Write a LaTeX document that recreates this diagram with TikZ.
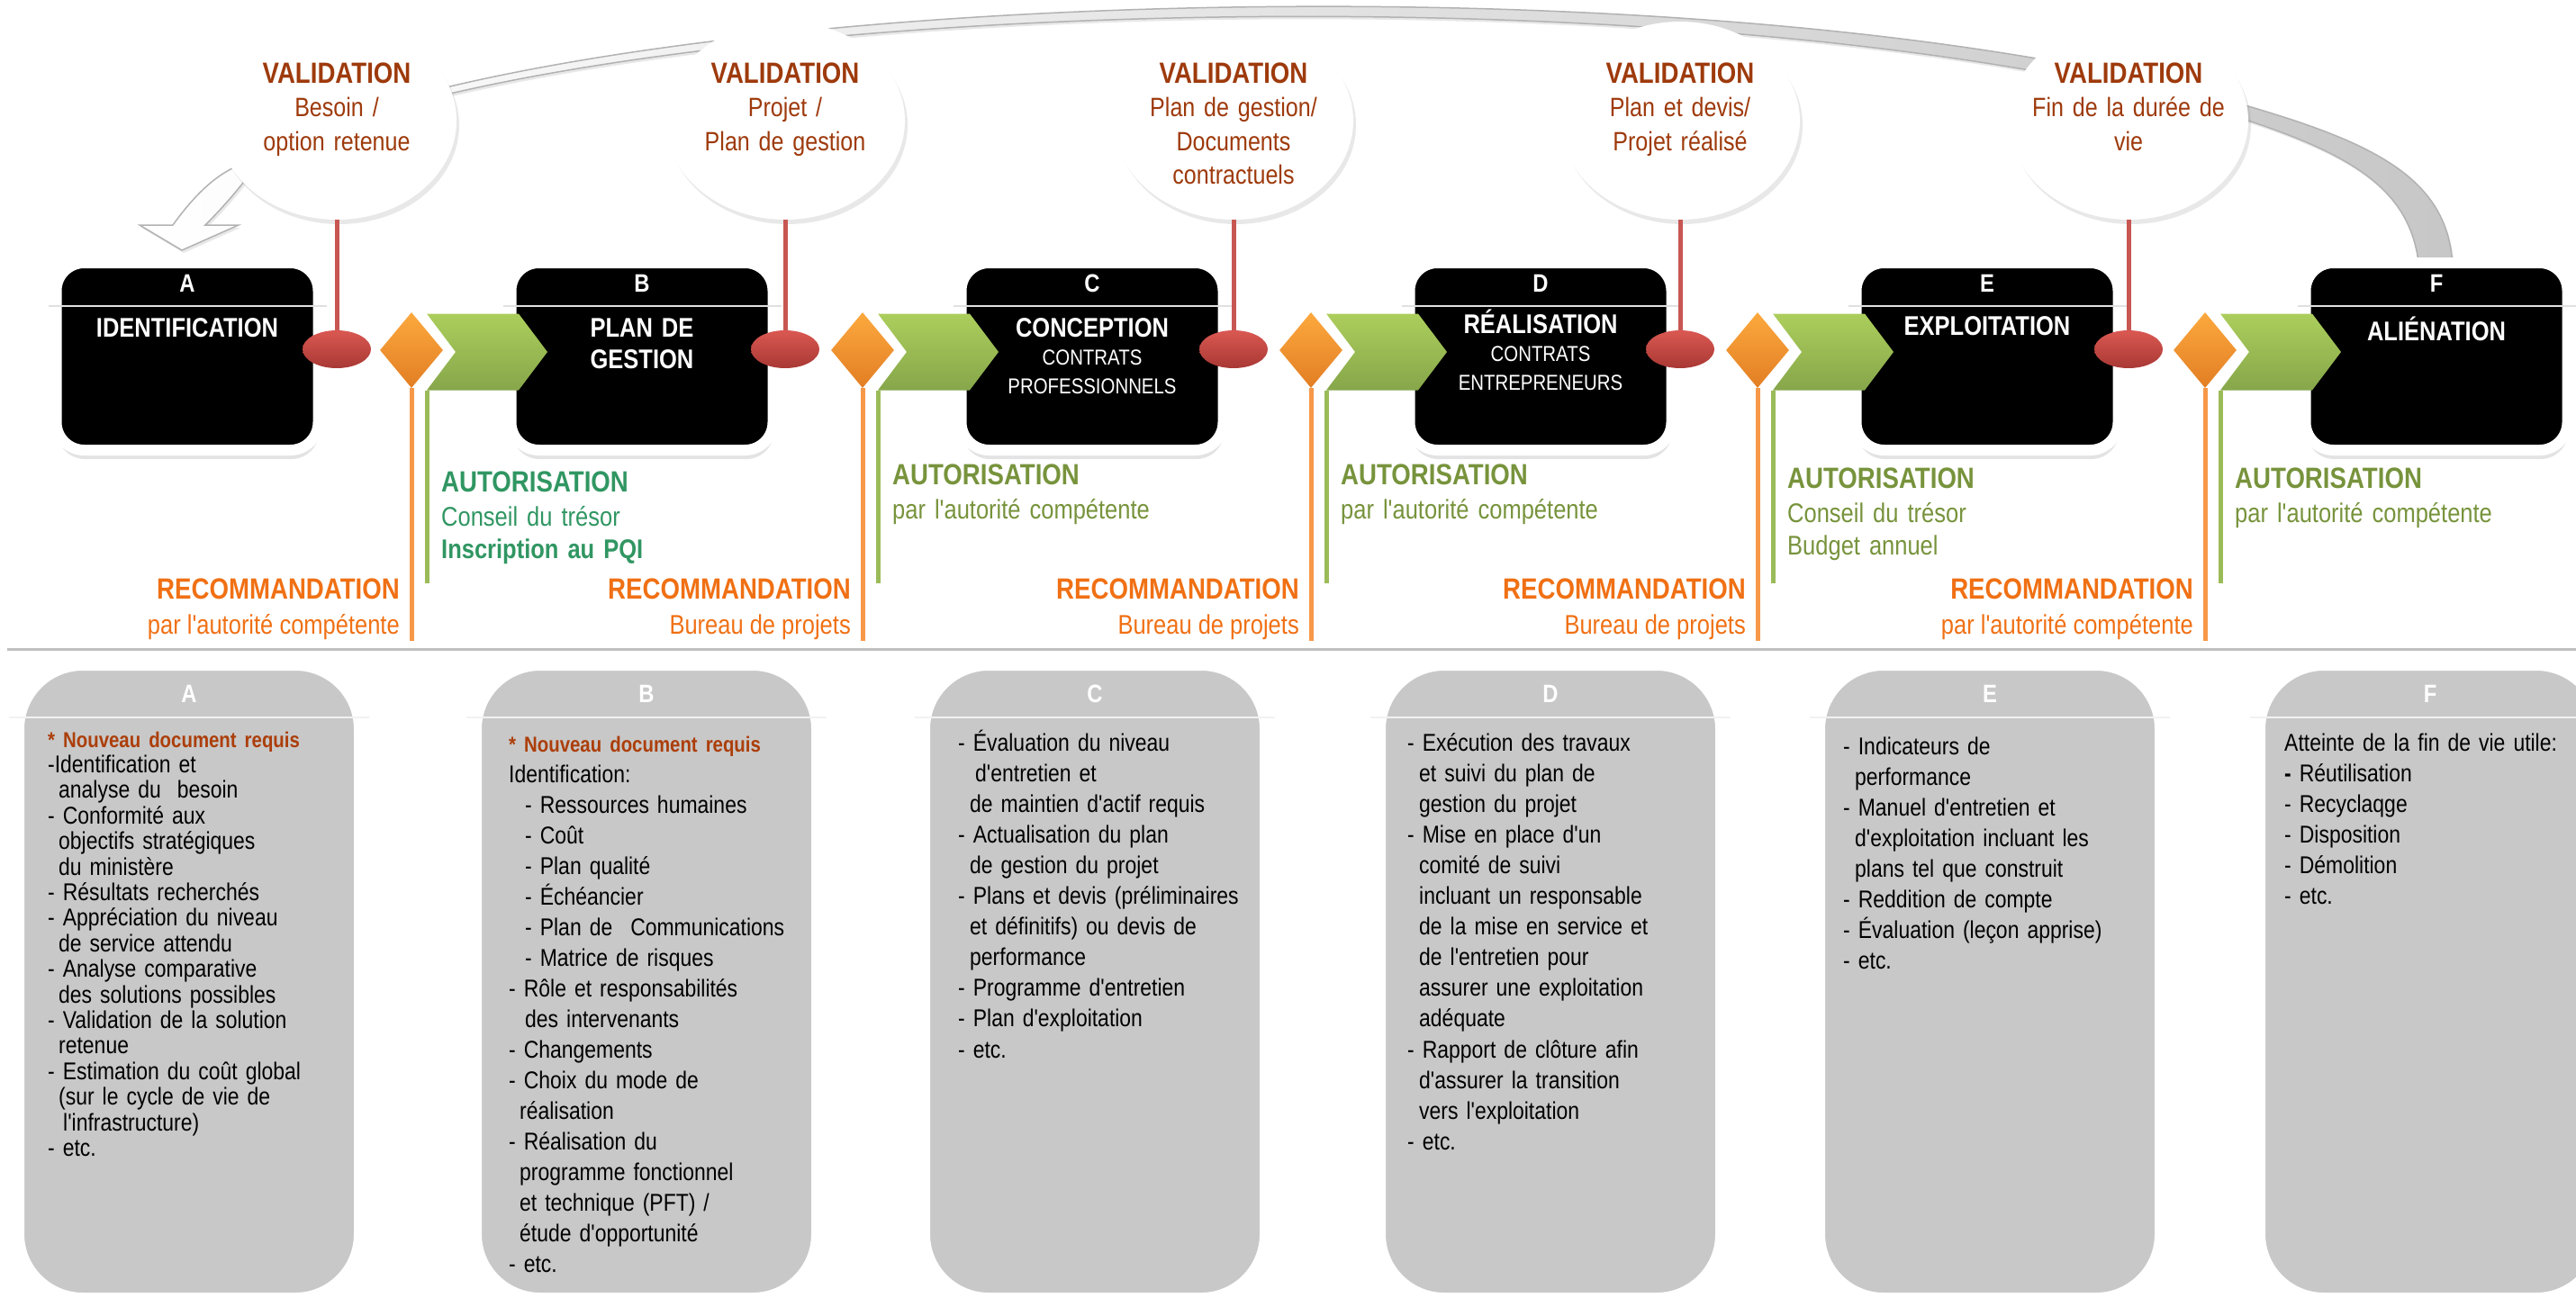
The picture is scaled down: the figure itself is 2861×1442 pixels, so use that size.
\documentclass[tikz,border=0pt]{standalone}
\usepackage{fontspec}
\setmainfont{Liberation Sans}[FakeStretch=0.85,Ligatures=TeXOff]
\usetikzlibrary{shapes.geometric,shapes.symbols,shadows}

\definecolor{valbrown}{RGB}{158,58,12}
\definecolor{reqbrown}{RGB}{172,62,10}
\definecolor{autteal}{RGB}{48,150,98}
\definecolor{autolive}{RGB}{119,147,60}
\definecolor{recorange}{RGB}{240,112,20}
\definecolor{redtop}{RGB}{218,88,82}
\definecolor{redbot}{RGB}{168,56,52}
\definecolor{redline}{RGB}{200,86,82}
\definecolor{ortop}{RGB}{252,168,62}
\definecolor{orbot}{RGB}{226,126,36}
\definecolor{orline}{RGB}{247,152,72}
\definecolor{grtop}{RGB}{172,206,92}
\definecolor{grbot}{RGB}{134,166,74}
\definecolor{grline}{RGB}{155,187,89}
\definecolor{cardgray}{RGB}{200,200,200}

\tikzset{
  loopband/.style={left color=white, right color=black!22, draw=black!30, line width=1.5pt,
    drop shadow={opacity=0.18, shadow xshift=2pt, shadow yshift=-3pt}},
  valbubble/.style={ellipse, fill=white, minimum width=266pt, minimum height=220pt,
    drop shadow={opacity=0.18, shadow xshift=3pt, shadow yshift=-5pt}},
  valtitle/.style={font=\fontsize{32.5}{38}\selectfont\bfseries, text=valbrown},
  valsub/.style={font=\fontsize{29.5}{37.5}\selectfont, text=valbrown, text width=250pt, align=center},
  phasebox/.style={rectangle, rounded corners=31pt, fill=black, draw=white, line width=12pt,
    minimum width=291pt, minimum height=208pt,
    drop shadow={opacity=0.22, shadow xshift=1pt, shadow yshift=-10pt}},
  phasediv/.style={draw=black!12, line width=2.5pt},
  phaseletter/.style={font=\fontsize{28}{30}\selectfont\bfseries, text=white},
  phasetitle/.style={font=\fontsize{30}{35}\selectfont\bfseries, text=white, text width=270pt, align=center},
  phasesub/.style={font=\fontsize{24}{32}\selectfont, text=white, text width=270pt, align=center},
  okmark/.style={ellipse, minimum width=76pt, minimum height=42pt, top color=redtop, bottom color=redbot},
  recmark/.style={diamond, minimum width=70pt, minimum height=84pt, top color=ortop, bottom color=orbot},
  autmark/.style={signal, signal from=west, signal to=east, signal pointer angle=106,
    minimum width=134pt, minimum height=85pt, top color=grtop, bottom color=grbot},
  valline/.style={draw=redline, line width=5pt},
  recline/.style={draw=orline, line width=5pt},
  autline/.style={draw=grline, line width=5pt},
  auttitle/.style={font=\fontsize{32.5}{38}\selectfont\bfseries},
  autsub/.style={font=\fontsize{30}{36}\selectfont, text width=320pt, align=left},
  rectitle/.style={font=\fontsize{32.5}{38}\selectfont\bfseries, text=recorange},
  recsub/.style={font=\fontsize{30}{36}\selectfont, text=recorange},
  sepline/.style={draw=black!25, line width=3pt},
  card/.style={rectangle, rounded corners=70pt, fill=cardgray, draw=white, line width=10pt,
    minimum width=376pt, minimum height=701pt,
    drop shadow={opacity=0.15, shadow xshift=0pt, shadow yshift=-4pt}},
  carddiv/.style={draw=black!5, line width=2.5pt},
  cardletter/.style={font=\fontsize{28}{30}\selectfont\bfseries, text=white},
  cardtext/.style={font=\fontsize{27}{34.1}\selectfont, text width=350pt, align=left, anchor=base west}
}
\newcommand\requis{\textcolor{reqbrown}{\fontsize{24}{24}\selectfont\textbf{* Nouveau document requis}}}

\begin{document}
\begin{tikzpicture}[x=1pt, y=-1pt, every node/.style={inner sep=0pt}]
\useasboundingbox (0,0) rectangle (2861,1442);

% grande fleche de retour (F -> A)
\shadedraw[loopband]
  (2724,300) .. controls (2722,200) and (2640,160) .. (2497,118)
  .. controls (2000,-30) and (1000,-22) .. (500,96)
  .. controls (380,125) and (300,160) .. (270,203)
  .. controls (255,222) and (240,238) .. (228,250)
  -- (265,250) -- (202,278) -- (155,250) -- (192,250)
  .. controls (210,225) and (232,200) .. (258,187)
  .. controls (330,150) and (400,115) .. (500,104)
  .. controls (1000,-12) and (2000,-18) .. (2497,134)
  .. controls (2620,175) and (2680,215) .. (2687,300)
  -- cycle;

% bulles de validation
\foreach \i/\vx/\vsub in {0/374/{Besoin /\\option retenue},
                          1/872/{Projet /\\Plan de gestion},
                          2/1370/{Plan de gestion/\\Documents\\contractuels},
                          3/1866/{Plan et devis/\\Projet réalisé},
                          4/2364/{Fin de la durée de\\vie}}{
  \node[valbubble] (val\i) at (\vx,134) {};
  \node[valtitle, anchor=base] (valhead\i) at (\vx,93) {VALIDATION};
  \node[valsub, anchor=base] (valtxt\i) at (\vx,130) {\vsub};
}

% phases
\foreach \L/\bx/\ttl/\tb/\sub in {A/208/IDENTIFICATION/374/{},
                                  B/713/{PLAN DE\\GESTION}/374/{},
                                  C/1213/CONCEPTION/374/{CONTRATS\\PROFESSIONNELS},
                                  D/1711/RÉALISATION/370/{CONTRATS\\ENTREPRENEURS},
                                  E/2207/EXPLOITATION/372/{},
                                  F/2706/ALIÉNATION/378/{}}{
  \node[phasebox] (phase\L) at (\bx,396) {};
  \draw[phasediv] (\bx-154,340) -- (\bx+155,340);
  \node[phaseletter, anchor=base] (letter\L) at (\bx,324) {\L};
  \node[phasetitle, anchor=base] (title\L) at (\bx,\tb) {\ttl};
  \node[phasesub, anchor=base] (sub\L) at (\bx,\tb+31) {\sub};
}

% jalons entre les phases
\foreach \i/\dx/\vx/\ay/\autcol/\autsub/\recsub in {
    0/457/374/546/autteal/{Conseil du trésor\\\textbf{Inscription au PQI}}/{par l'autorité compétente},
    1/958/872/538/autolive/{par l'autorité compétente}/{Bureau de projets},
    2/1456/1370/538/autolive/{par l'autorité compétente}/{Bureau de projets},
    3/1952/1866/542/autolive/{Conseil du trésor\\Budget annuel}/{Bureau de projets},
    4/2449/2364/542/autolive/{par l'autorité compétente}/{par l'autorité compétente}}{
  \node[okmark] (ok\i) at (\vx,388) {};
  \node[recmark] (rec\i) at (\dx,389) {};
  \node[autmark] (aut\i) at (\dx+84,391) {};
  \coordinate (recend\i) at (\dx,712);
  \coordinate (autend\i) at (\dx+17,648);
  \draw[valline] (val\i.south) -- (ok\i.north);
  \draw[recline] (rec\i.south) -- (recend\i);
  \draw[autline] ([xshift=-67pt]aut\i.south) -- (autend\i);
  \node[auttitle, text=\autcol, anchor=base west] (authead\i) at (\dx+33,\ay) {AUTORISATION};
  \node[autsub, text=\autcol, anchor=base west] (auttxt\i) at (\dx+33,\ay+38) {\autsub};
  \node[rectitle, anchor=base east] (rechead\i) at (\dx-13,665) {RECOMMANDATION};
  \node[recsub, anchor=base east] (rectxt\i) at (\dx-13,704) {\recsub};
}

\draw[sepline] (8,721) -- (2861,721);

% fiches
\foreach \L/\bx in {A/210,B/718,C/1216,D/1722,E/2210,F/2699}{
  \node[card] (card\L) at (\bx,1090.5) {};
  \draw[carddiv] (\bx-200,797) -- (\bx+200,797);
  \node[cardletter, anchor=base] (cardletter\L) at (\bx,780) {\L};
}

\node[cardtext, font=\fontsize{27}{28.4}\selectfont] (txtA) at (53,830) {%
\requis\\
-Identification et\\
\hspace*{12pt}analyse du\ \ besoin\\
- Conformité aux\\
\hspace*{12pt}objectifs stratégiques\\
\hspace*{12pt}du ministère\\
- Résultats recherchés\\
- Appréciation du niveau\\
\hspace*{12pt}de service attendu\\
- Analyse comparative\\
\hspace*{12pt}des solutions possibles\\
- Validation de la solution\\
\hspace*{12pt}retenue\\
- Estimation du coût global\\
\hspace*{12pt}(sur le cycle de vie de\\
\hspace*{17pt}l'infrastructure)\\
- etc.};

\node[cardtext, font=\fontsize{27}{34}\selectfont] (txtB) at (565,835) {%
\requis\\
Identification:\\
\hspace*{18pt}- Ressources humaines\\
\hspace*{18pt}- Coût\\
\hspace*{18pt}- Plan qualité\\
\hspace*{18pt}- Échéancier\\
\hspace*{18pt}- Plan de\hspace*{20pt}Communications\\
\hspace*{18pt}- Matrice de risques\\
- Rôle et responsabilités\\
\hspace*{18pt}des intervenants\\
- Changements\\
- Choix du mode de\\
\hspace*{12pt}réalisation\\
- Réalisation du\\
\hspace*{12pt}programme fonctionnel\\
\hspace*{12pt}et technique (PFT) /\\
\hspace*{12pt}étude d'opportunité\\
- etc.};

\node[cardtext] (txtC) at (1064,834) {%
- Évaluation du niveau\\
\hspace*{19pt}d'entretien et\\
\hspace*{13pt}de maintien d'actif requis\\
- Actualisation du plan\\
\hspace*{13pt}de gestion du projet\\
- Plans et devis (préliminaires\\
\hspace*{13pt}et définitifs) ou devis de\\
\hspace*{13pt}performance\\
- Programme d'entretien\\
- Plan d'exploitation\\
- etc.};

\node[cardtext] (txtD) at (1563,834) {%
- Exécution des travaux\\
\hspace*{13pt}et suivi du plan de\\
\hspace*{13pt}gestion du projet\\
- Mise en place d'un\\
\hspace*{13pt}comité de suivi\\
\hspace*{13pt}incluant un responsable\\
\hspace*{13pt}de la mise en service et\\
\hspace*{13pt}de l'entretien pour\\
\hspace*{13pt}assurer une exploitation\\
\hspace*{13pt}adéquate\\
- Rapport de clôture afin\\
\hspace*{13pt}d'assurer la transition\\
\hspace*{13pt}vers l'exploitation\\
- etc.};

\node[cardtext] (txtE) at (2047,838) {%
- Indicateurs de\\
\hspace*{13pt}performance\\
- Manuel d'entretien et\\
\hspace*{13pt}d'exploitation incluant les\\
\hspace*{13pt}plans tel que construit\\
- Reddition de compte\\
- Évaluation (leçon apprise)\\
- etc.};

\node[cardtext] (txtF) at (2537,834) {%
Atteinte de la fin de vie utile:\\
\textbf{-} Réutilisation\\
- Recyclaqge\\
- Disposition\\
- Démolition\\
- etc.};

\end{tikzpicture}
\end{document}
